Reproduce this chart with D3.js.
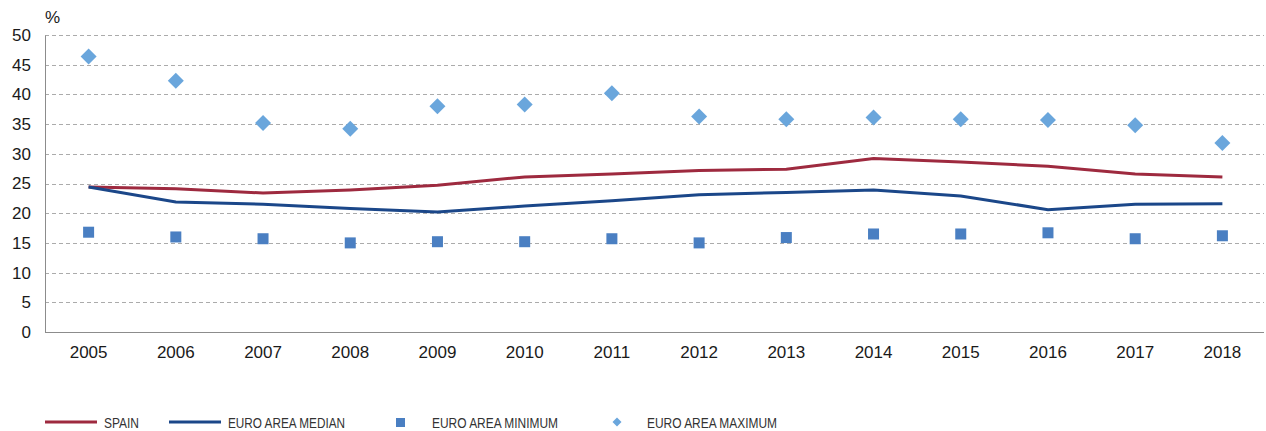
<!DOCTYPE html>
<html>
<head>
<meta charset="utf-8">
<script src="https://cdn.jsdelivr.net/npm/d3@7"></script>
<style>
  body { margin: 0; background: #fff; }
  svg text { font-family: "Liberation Sans", Arial, sans-serif; }
</style>
</head>
<body>
<svg width="1266" height="431"></svg>
<script>
var years = ["2005","2006","2007","2008","2009","2010","2011","2012","2013","2014","2015","2016","2017","2018"];
var spain = [24.4, 24.1, 23.4, 23.9, 24.7, 26.1, 26.6, 27.2, 27.4, 29.2, 28.6, 27.9, 26.6, 26.1];
var euroMedian = [24.4, 21.9, 21.5, 20.8, 20.2, 21.2, 22.1, 23.1, 23.5, 23.9, 22.9, 20.6, 21.5, 21.6];
var euroMin = [16.8, 16.0, 15.7, 15.0, 15.2, 15.2, 15.7, 15.0, 15.9, 16.5, 16.5, 16.7, 15.7, 16.2];
var euroMax = [46.4, 42.3, 35.2, 34.2, 38.0, 38.3, 40.2, 36.3, 35.8, 36.1, 35.8, 35.7, 34.8, 31.8];
var yTicks = [0, 5, 10, 15, 20, 25, 30, 35, 40, 45, 50];

var svg = d3.select("svg");
var plotLeft = 45, plotRight = 1266, plotTop = 35, plotBottom = 332;

var x = d3.scaleBand().domain(years).range([plotLeft, plotRight]);
var y = d3.scaleLinear().domain([0, 50]).range([plotBottom, plotTop]);
var cx = function(i) { return x(years[i]) + x.bandwidth() / 2; };

// grid
svg.append("g").selectAll("line")
    .data(yTicks.filter(function(d) { return d > 0; }))
    .enter().append("line")
    .attr("x1", plotLeft).attr("x2", plotRight - 2)
    .attr("y1", function(d) { return Math.round(y(d)) + 0.5; })
    .attr("y2", function(d) { return Math.round(y(d)) + 0.5; })
    .attr("stroke", "#ababab")
    .attr("stroke-width", 1)
    .attr("stroke-dasharray", "4,3");

// axes
var yAxis = svg.append("g")
    .attr("transform", "translate(" + plotLeft + ",0)")
    .call(d3.axisLeft(y).tickValues(yTicks).tickSize(0).tickPadding(14));
yAxis.select(".domain").attr("stroke", "#8c8c8c");
yAxis.selectAll("text").attr("font-size", 17).attr("fill", "#1a1a1a");

var xAxis = svg.append("g")
    .attr("transform", "translate(0," + plotBottom + ")")
    .call(d3.axisBottom(x).tickSize(0).tickPadding(14));
xAxis.select(".domain").attr("stroke", "#8c8c8c").attr("d", "M" + plotLeft + ",0.5H" + (plotRight - 2));
xAxis.selectAll("text").attr("font-size", 17).attr("fill", "#1a1a1a");

svg.append("text").attr("x", 45).attr("y", 23)
    .attr("font-size", 17).attr("fill", "#1a1a1a").text("%");

// lines
var line = d3.line()
    .x(function(d, i) { return cx(i); })
    .y(function(d) { return y(d); });

svg.append("path").datum(spain)
    .attr("fill", "none").attr("stroke", "#9e2a3f").attr("stroke-width", 3)
    .attr("d", line);
svg.append("path").datum(euroMedian)
    .attr("fill", "none").attr("stroke", "#1b4789").attr("stroke-width", 3)
    .attr("d", line);

// minimum squares
svg.append("g").selectAll("rect")
    .data(euroMin)
    .enter().append("rect")
    .attr("x", function(d, i) { return cx(i) - 5.5; })
    .attr("y", function(d) { return y(d) - 5.5; })
    .attr("width", 11).attr("height", 11)
    .attr("fill", "#4a7fc2");

// maximum diamonds
svg.append("g").selectAll("path")
    .data(euroMax)
    .enter().append("path")
    .attr("transform", function(d, i) { return "translate(" + cx(i) + "," + y(d) + ")"; })
    .attr("d", "M0,-8L8,0L0,8L-8,0Z")
    .attr("fill", "#6aa6dc");

// legend
var ly = 422;
var lg = svg.append("g").attr("font-size", 15).attr("fill", "#333");
function legendText(tx, label, w) {
  lg.append("text").attr("x", tx).attr("y", ly + 5.5).text(label)
    .attr("textLength", w).attr("lengthAdjust", "spacingAndGlyphs");
}
lg.append("line").attr("x1", 45).attr("x2", 97).attr("y1", ly).attr("y2", ly)
    .attr("stroke", "#9e2a3f").attr("stroke-width", 3);
legendText(104, "SPAIN", 35);
lg.append("line").attr("x1", 169).attr("x2", 221).attr("y1", ly).attr("y2", ly)
    .attr("stroke", "#1b4789").attr("stroke-width", 3);
legendText(228, "EURO AREA MEDIAN", 117);
lg.append("rect").attr("x", 396).attr("y", ly - 4).attr("width", 9).attr("height", 9)
    .attr("fill", "#4a7fc2");
legendText(432, "EURO AREA MINIMUM", 126);
lg.append("path").attr("transform", "translate(617," + ly + ")")
    .attr("d", "M0,-4.5L4.5,0L0,4.5L-4.5,0Z").attr("fill", "#6aa6dc");
legendText(647, "EURO AREA MAXIMUM", 130);
</script>
</body>
</html>
